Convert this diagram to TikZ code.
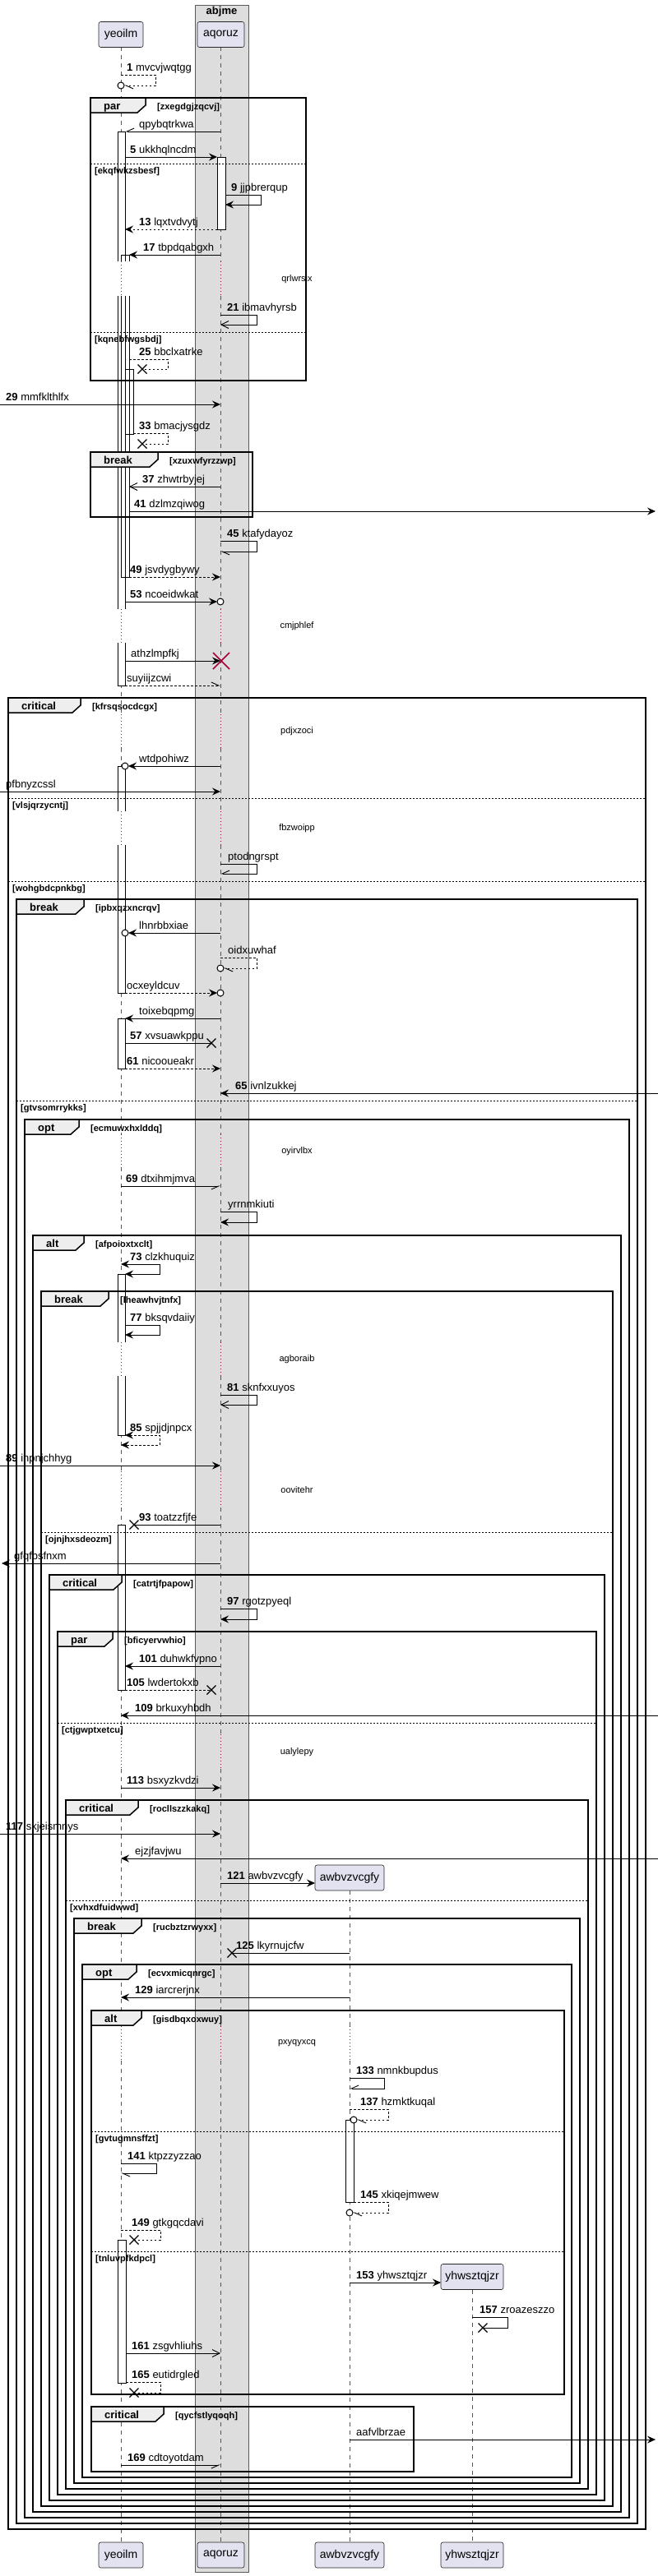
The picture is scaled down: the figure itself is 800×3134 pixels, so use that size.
\documentclass[tikz,border=0pt]{standalone}
\usepackage{fontspec}
\setmainfont{Liberation Sans}
\usetikzlibrary{arrows.meta}
\definecolor{partfill}{HTML}{E2E2F0}
\definecolor{grpfill}{HTML}{DDDDDD}
\definecolor{tabfill}{HTML}{EEEEEE}
\definecolor{delayred}{HTML}{A80036}
\definecolor{lifegray}{HTML}{555555}
\newcommand\msgf{\fontsize{13}{15}\selectfont}
\newcommand\condf{\bfseries\fontsize{11}{13}\selectfont}
\newcommand\kwf{\bfseries\fontsize{13}{15}\selectfont}
\newcommand\dlf{\fontsize{11}{13}\selectfont}
\tikzset{
  msg/.style={line width=0.9pt, draw=black},
  dsh/.style={dash pattern=on 2.5pt off 2.5pt},
  fa/.style={-{Stealth[length=10pt,width=9pt,inset=3.5pt]}},
  fafa/.style={{Stealth[length=10pt,width=9pt,inset=3.5pt]}-{Stealth[length=10pt,width=9pt,inset=3.5pt]}},
  oa/.style={-{Straight Barb[length=9pt,width=9pt,line width=0.9pt]}},
  ha/.style={-{Straight Barb[length=9pt,width=8pt,harpoon,line width=0.9pt]}},
  hs/.style={-{Straight Barb[length=9pt,width=8pt,harpoon,swap,line width=0.9pt]}},
  circ/.style={draw=black, fill=white, line width=1pt},
  lostx/.style={draw=black, line width=1.3pt},
  life/.style={draw=lifegray, line width=0.7pt, dash pattern=on 5pt off 5pt},
  delayl/.style={draw=delayred, line width=0.9pt, dash pattern=on 1pt off 3pt},
  frm/.style={draw=black, line width=1.5pt},
  sepl/.style={draw=black, line width=0.8pt, dash pattern=on 2pt off 2pt},
  actb/.style={draw=black, line width=0.9pt},
  part/.style={draw=black!85, fill=partfill, line width=0.6pt, rounded corners=2.5pt,
    font=\fontsize{14}{16}\selectfont, inner sep=0pt, minimum height=31pt, anchor=center},
  lbl/.style={anchor=base west, inner sep=0pt, font=\msgf},
  kw/.style={anchor=base west, inner sep=0pt, font=\kwf},
  cond/.style={anchor=base west, inner sep=0pt, font=\condf},
  dlt/.style={inner sep=0pt, font=\dlf},
}
\newcommand\mlab[3]{\node[lbl] at (#1,#2-5) {#3};}
\newcommand\mnum[4]{\node[lbl] at (#1,#2-5) {{\bfseries #3} #4};}
\newcommand\lostcross[2]{\draw[lostx] (#1-5.5,#2-5.5) -- (#1+5.5,#2+5.5) (#1-5.5,#2+5.5) -- (#1+5.5,#2-5.5);}
\newcommand\sqframe[7]{%
  \draw[frm] (#1,#2) rectangle (#3,#4);
  \draw[frm, fill=tabfill] (#1,#2) -- (#5,#2) -- (#5,#2+9) -- (#5-10,#2+18) -- (#1,#2+18) -- cycle;
  \node[kw] at (#1+16,#2+14) {#6};
  \node[cond] at (#5+14,#2+14) {[#7]};
}
\newcommand\sqsep[4]{%
  \draw[sepl] (#1,#3) -- (#2,#3);
  \node[cond] at (#1+5,#3+12) {[#4]};
}
\newcommand\delaytext[2]{\node[dlt] at (361,#1) {#2};}
\begin{document}
\begin{tikzpicture}[x=1pt,y=-1pt]
\useasboundingbox (0,0) rectangle (800,3134);
\fill[white] (0,0) rectangle (800,3134);

% group box
\draw[fill=grpfill, draw=gray!70!black, line width=0.8pt] (237,6) rectangle (302,3129);
\node[font=\kwf, inner sep=0pt] (grp) at (269.5,14) {abjme};

% lifelines
\foreach \a/\b in {57/318,360/741,782/869,910/987,1028/1380,1420/1633,1674/1790,1834/2110,2152/2465,2507/3093}{
  \draw[life] (147,\a) -- (147,\b);
  \draw[life] (268,\a) -- (268,\b);
}
\foreach \a/\b in {318/360,741/782,869/910,987/1028,1380/1420,1633/1674,1790/1834,2110/2152,2465/2507}{
  \draw[delayl] (147,\a) -- (147,\b);
  \draw[delayl] (268,\a) -- (268,\b);
}
\draw[life] (425,2300) -- (425,2465);
\draw[delayl] (425,2465) -- (425,2507);
\draw[life] (425,2507) -- (425,3093);
\draw[life] (574,2786) -- (574,3093);

% participants
\node[part, minimum width=54pt] (yeoilmT) at (147,42) {yeoilm};
\node[part, minimum width=57pt] (aqoruzT) at (268.5,42) {aqoruz};
\node[part, minimum width=54pt] (yeoilmB) at (147,3108.5) {yeoilm};
\node[part, minimum width=57pt] (aqoruzB) at (268.5,3108.5) {aqoruz};
\node[part, minimum width=84pt] (awbB) at (425,3108.5) {awbvzvcgfy};
\node[part, minimum width=76pt] (yhwB) at (574,3108.5) {yhwsztqjzr};
\node[part, minimum width=84pt] (awbT) at (425,2284.5) {awbvzvcgfy};
\node[part, minimum width=76pt] (yhwT) at (574,2770) {yhwsztqjzr};

% activation fills
\fill[white] (143,160) rectangle (152,318);
\fill[white] (143,360) rectangle (152,741);
\fill[white] (143,782) rectangle (152,834);
\fill[white] (147,310) rectangle (157,318);
\fill[white] (147,360) rectangle (157,702);
\fill[white] (152,449) rectangle (162,528);
\fill[white] (143,932) rectangle (152,987);
\fill[white] (143,1028) rectangle (152,1208);
\fill[white] (143,1239) rectangle (152,1300);
\fill[white] (143,1550) rectangle (152,1633);
\fill[white] (143,1674) rectangle (152,1746);
\fill[white] (143,1855) rectangle (152,2056);
\fill[white] (143,2725) rectangle (153,2899);
\fill[white] (264,191) rectangle (274,279);
\fill[white] (420,2579) rectangle (430,2679);
% activation outlines
\draw[actb] (143,318) -- (143,160) -- (152,160) -- (152,318);
\draw[actb] (143,360) -- (143,741) (152,360) -- (152,741);
\draw[actb] (143,782) -- (143,834) -- (152,834) -- (152,782);
\draw[actb] (147,318) -- (147,310) -- (157,310) -- (157,318);
\draw[actb] (147,360) -- (147,702) -- (157,702) -- (157,360);
\draw[actb] (152,449) rectangle (162,528);
\draw[actb] (143,987) -- (143,932) -- (152,932) -- (152,987);
\draw[actb] (143,1028) -- (143,1208) -- (152,1208) -- (152,1028);
\draw[actb] (143,1239) rectangle (152,1300);
\draw[actb] (143,1633) -- (143,1550) -- (152,1550) -- (152,1633);
\draw[actb] (143,1674) -- (143,1746) -- (152,1746) -- (152,1674);
\draw[actb] (143,1855) rectangle (152,2056);
\draw[actb] (143,2725) rectangle (153,2899);
\draw[actb] (264,191) rectangle (274,279);
\draw[actb] (420,2579) rectangle (430,2679);

% frames
\sqframe{110}{119}{372}{463}{177}{par}{zxegdgjzqcvj}
\sqsep{110}{372}{199}{ekqfwkzsbesf}
\sqsep{110}{372}{404}{kqnebfwgsbdj}
\sqframe{110}{550}{307}{629}{192}{break}{xzuxwfyrzzwp}
\sqframe{10}{849}{785}{3077}{98}{critical}{kfrsqsocdcgx}
\sqsep{10}{785}{971}{vlsjqrzycntj}
\sqsep{10}{785}{1072}{wohgbdcpnkbg}
\sqframe{20}{1094}{775}{3070}{102}{break}{ipbxqzxncrqv}
\sqsep{20}{775}{1339}{gtvsomrrykks}
\sqframe{30}{1362}{765}{3063}{96}{opt}{ecmuwxhxlddq}
\sqframe{40}{1503}{755}{3056}{102}{alt}{afpoioxtxclt}
\sqframe{50}{1571}{745}{3049}{132}{break}{lheawhvjtnfx}
\sqsep{50}{745}{1864}{ojnjhxsdeozm}
\sqframe{60}{1916}{735}{3042}{148}{critical}{catrtjfpapow}
\sqframe{70}{1985}{725}{3035}{137}{par}{bficyervwhio}
\sqsep{70}{725}{2096}{ctjgwptxetcu}
\sqframe{80}{2190}{715}{3028}{168}{critical}{rocllszzkakq}
\sqsep{80}{715}{2312}{xvhxdfuidwwd}
\sqframe{90}{2334}{705}{3021}{172}{break}{rucbztzrwyxx}
\sqframe{100}{2390}{695}{3014}{166}{opt}{ecvxmicqnrgc}
\sqframe{111}{2446}{686}{2913}{172}{alt}{gisdbqxoxwuy}
\sqsep{111}{686}{2593}{gvtugmnsffzt}
\sqsep{111}{686}{2739}{tnluvpfkdpcl}
\sqframe{111}{2928}{503}{3007}{199}{critical}{qycfstlyqoqh}

% delays
\delaytext{340}{qrlwrsix}
\delaytext{762}{cmjphlef}
\delaytext{890}{pdjxzoci}
\delaytext{1008}{fbzwoipp}
\delaytext{1401}{oyirvlbx}
\delaytext{1654}{agboraib}
\delaytext{1813}{oovitehr}
\delaytext{2132}{ualylepy}
\delaytext{2486}{pxyqyxcq}

% messages
\draw[msg,dsh,ha] (147,91) -- (189,91) -- (189,104) -- (151,104);
\draw[circ] (147,104) circle (4);
\mnum{154}{91}{1}{mvcvjwqtgg}
\draw[msg,hs] (268,160) -- (152,160); \mlab{169}{160}{qpybqtrkwa}
\draw[msg,fa] (152,191) -- (264,191); \mnum{158}{191}{5}{ukkhqlncdm}
\draw[msg,fa] (274,237) -- (317,237) -- (317,249) -- (274,249); \mnum{281}{237}{9}{jjpbrerqup}
\draw[msg,dsh,fa] (264,279) -- (152,279); \mnum{169}{279}{13}{lqxtvdvytj}
\draw[msg,fa] (268,310) -- (157,310); \mnum{174}{310}{17}{tbpdqabgxh}
\draw[msg,oa] (268,383) -- (312,383) -- (312,395) -- (268,395); \mnum{276}{383}{21}{ibmavhyrsb}
\draw[msg,dsh] (157,437) -- (204,437) -- (204,449) -- (173,449); \lostcross{173}{449} \mnum{169}{437}{25}{bbclxatrke}
\draw[msg,fa] (0,492) -- (268,492); \mnum{7}{492}{29}{mmfklthlfx}
\draw[msg,dsh] (162,527) -- (204,527) -- (204,540) -- (173,540); \lostcross{173}{540} \mnum{169}{527}{33}{bmacjysgdz}
\draw[msg,oa] (268,592) -- (157,592); \mnum{173}{592}{37}{zhwtrbyjej}
\draw[msg,fa] (157,622) -- (797,622); \mnum{163}{622}{41}{dzlmzqiwog}
\draw[msg,ha] (268,658) -- (312,658) -- (312,671) -- (268,671); \mnum{276}{658}{45}{ktafydayoz}
\draw[msg,dsh,fa] (157,702) -- (268,702); \mnum{158}{702}{49}{jsvdygbywy}
\draw[msg,fa] (152,732) -- (264,732); \draw[circ] (268,732) circle (4); \mnum{158}{732}{53}{ncoeidwkat}
\draw[msg,fa] (152,804) -- (268,804); \mlab{159}{804}{athzlmpfkj}
\draw[draw=delayred, line width=1.6pt] (259,794) -- (279,814) (259,814) -- (279,794);
\draw[msg,dsh,ha] (152,834) -- (268,834); \mlab{154}{834}{suyiijzcwi}
\draw[msg,fa] (268,932) -- (156,932); \draw[circ] (152,932) circle (4); \mlab{169}{932}{wtdpohiwz}
\draw[msg,fa] (0,963) -- (268,963); \mlab{7}{963}{pfbnyzcssl}
\draw[msg,hs] (268,1051) -- (312,1051) -- (312,1063) -- (268,1063); \mlab{277}{1051}{ptodngrspt}
\draw[msg,fa] (268,1135) -- (156,1135); \draw[circ] (152,1135) circle (4); \mlab{169}{1135}{lhnrbbxiae}
\draw[msg,dsh,ha] (268,1165) -- (312,1165) -- (312,1178) -- (272,1178); \draw[circ] (268,1178) circle (4); \mlab{277}{1165}{oidxuwhaf}
\draw[msg,dsh,fa] (152,1208) -- (264,1208); \draw[circ] (268,1208) circle (4); \mlab{154}{1208}{ocxeyldcuv}
\draw[msg,fa] (268,1239) -- (152,1239); \mlab{169}{1239}{toixebqpmg}
\draw[msg] (152,1269) -- (257,1269); \lostcross{257}{1269} \mnum{158}{1269}{57}{xvsuawkppu}
\draw[msg,dsh,fa] (152,1300) -- (268,1300); \mnum{154}{1300}{61}{nicooueakr}
\draw[msg,fa] (800,1330) -- (268,1330); \mnum{286}{1330}{65}{ivnlzukkej}
\draw[msg,hs] (147,1443) -- (268,1443); \mnum{153}{1443}{69}{dtxihmjmva}
\draw[msg,fa] (268,1474) -- (312,1474) -- (312,1487) -- (268,1487); \mlab{277}{1474}{yrrnmkiuti}
\draw[msg,fafa] (147,1538) -- (194,1538) -- (194,1550) -- (152,1550); \mnum{158}{1538}{73}{clzkhuquiz}
\draw[msg,fa] (152,1612) -- (194,1612) -- (194,1624) -- (152,1624); \mnum{158}{1612}{77}{bksqvdaiiy}
\draw[msg,oa] (268,1697) -- (312,1697) -- (312,1709) -- (268,1709); \mnum{276}{1697}{81}{sknfxxuyos}
\draw[msg,dsh,fafa] (152,1746) -- (194,1746) -- (194,1758) -- (147,1758); \mnum{158}{1746}{85}{spjjdjnpcx}
\draw[msg,fa] (0,1783) -- (268,1783); \mnum{7}{1783}{89}{ihpnjchhyg}
\draw[msg] (268,1855) -- (163,1855); \lostcross{163}{1855} \mnum{169}{1855}{93}{toatzzfjfe}
\draw[msg,fa] (268,1902) -- (2,1902); \mlab{17}{1902}{gfqfbsfnxm}
\draw[msg,fa] (268,1957) -- (312,1957) -- (312,1970) -- (268,1970); \mnum{276}{1957}{97}{rgotzpyeql}
\draw[msg,fa] (268,2027) -- (152,2027); \mnum{169}{2027}{101}{duhwkfvpno}
\draw[msg,dsh] (152,2056) -- (257,2056); \lostcross{257}{2056} \mnum{154}{2056}{105}{lwdertokxb}
\draw[msg,fa] (800,2087) -- (147,2087); \mnum{164}{2087}{109}{brkuxyhbdh}
\draw[msg,fa] (147,2175) -- (268,2175); \mnum{154}{2175}{113}{bsxyzkvdzi}
\draw[msg,fa] (0,2231) -- (268,2231); \mnum{7}{2231}{117}{skjeismnys}
\draw[msg,fa] (800,2261) -- (147,2261); \mlab{164}{2261}{ejzjfavjwu}
\draw[msg,fa] (268,2291) -- (383,2291); \mnum{276}{2291}{121}{awbvzvcgfy}
\draw[msg] (425,2376) -- (282,2376); \lostcross{282}{2376} \mnum{287}{2376}{125}{lkyrnujcfw}
\draw[msg,fa] (425,2430) -- (147,2430); \mnum{164}{2430}{129}{iarcrerjnx}
\draw[msg,hs] (425,2528) -- (467,2528) -- (467,2541) -- (425,2541); \mnum{433}{2528}{133}{nmnkbupdus}
\draw[msg,dsh,ha] (425,2566) -- (472,2566) -- (472,2579) -- (434,2579); \draw[circ] (430,2579) circle (4); \mnum{438}{2566}{137}{hzmktkuqal}
\draw[msg,ha] (147,2632) -- (190,2632) -- (190,2644) -- (147,2644); \mnum{155}{2632}{141}{ktpzzyzzao}
\draw[msg,dsh,ha] (430,2679) -- (472,2679) -- (472,2692) -- (429,2692); \draw[circ] (425,2692) circle (4); \mnum{438}{2679}{145}{xkiqejmwew}
\draw[msg,dsh] (147,2713) -- (195,2713) -- (195,2725) -- (163,2725); \lostcross{163}{2725} \mnum{160}{2713}{149}{gtkgqcdavi}
\draw[msg,fa] (425,2777) -- (536,2777); \mnum{433}{2777}{153}{yhwsztqjzr}
\draw[msg] (574,2819) -- (617,2819) -- (617,2832) -- (587,2832); \lostcross{587}{2832} \mnum{583}{2819}{157}{zroazeszzo}
\draw[msg,oa] (153,2863) -- (268,2863); \mnum{160}{2863}{161}{zsgvhliuhs}
\draw[msg,dsh] (153,2898) -- (195,2898) -- (195,2911) -- (163,2911); \lostcross{163}{2911} \mnum{160}{2898}{165}{eutidrgled}
\draw[msg,fa] (425,2968) -- (797,2968); \mlab{433}{2968}{aafvlbrzae}
\draw[msg,hs] (147,2999) -- (268,2999); \mnum{155}{2999}{169}{cdtoyotdam}
\end{tikzpicture}
\end{document}
